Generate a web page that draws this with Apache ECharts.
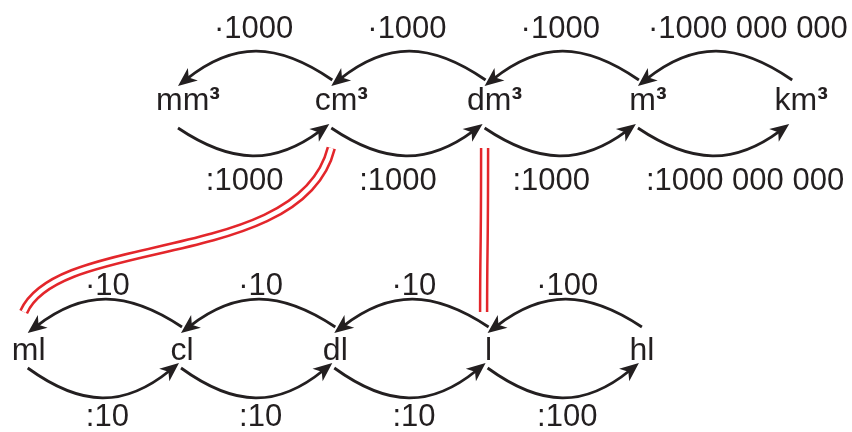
<!DOCTYPE html>
<html>
<head>
<meta charset="utf-8">
<script src="https://cdn.jsdelivr.net/npm/echarts@6/dist/echarts.min.js"></script>
<style>html,body{margin:0;padding:0;background:#fff}#c{width:852px;height:432px}</style>
</head>
<body>
<div id="c"></div>
<script>
// ---- data ----
const volumeUnits = ['mm³', 'cm³', 'dm³', 'm³', 'km³'];
const volumeMultipliers = ['·1000', '·1000', '·1000', '·1000 000 000'];
const volumeDivisors = [':1000', ':1000', ':1000', ':1000 000 000'];
const capacityUnits = ['ml', 'cl', 'dl', 'l', 'hl'];
const capacityMultipliers = ['·10', '·10', '·10', '·100'];
const capacityDivisors = [':10', ':10', ':10', ':100'];
const equivalences = [['cm³', 'ml'], ['dm³', 'l']];

// capacity row is shifted so that 'l' sits right below 'dm³'
const capShift = volumeUnits.indexOf('dm³') - capacityUnits.indexOf('l');

// ---- style ----
const FONT = "'Liberation Sans', Arial, Helvetica, sans-serif";
const INK = '#231f20';
const RED = '#e3262b';
const FS_LABEL = 31;
const FS_UNIT = 32;
const ROW = {
  volume:   { y: 1, dx: 0, unitDx: 10, up: [-22, -16, -50], low: [26, 22, 53], multDy: -72.7, divDy: 79.3, multDx: -1, divDx: -10 },
  capacity: { y: 0, dx: 3, unitDx: 1,  up: [-25, -19, -52], low: [16, 11, 45], multDy: -65.7, divDy: 65.3, multDx: 3,  divDx: 3 }
};

function arcCtrl(A, B, peakY, k) {
  const yc = (peakY - (A[1] + B[1]) / 8) / 0.75;
  return [A, [A[0] + k * (B[0] - A[0]), yc], [B[0] - k * (B[0] - A[0]), yc], B];
}
function arrowArc(A, B, peakY) {
  const [P0, P1, P2, P3] = arcCtrl(A, B, peakY, 0.36);
  const len = 19, half = 8;
  let dx = P3[0] - P2[0], dy = P3[1] - P2[1];
  const d = Math.hypot(dx, dy); dx /= d; dy /= d;
  const nx = -dy, ny = dx;
  const base = [P3[0] - dx * len, P3[1] - dy * len];
  const notch = [P3[0] - dx * len * 0.72, P3[1] - dy * len * 0.72];
  const end = [P3[0] - dx * len * 0.6, P3[1] - dy * len * 0.6];
  return [
    { type: 'bezierCurve', shape: { x1: P0[0], y1: P0[1], cpx1: P1[0], cpy1: P1[1], cpx2: P2[0], cpy2: P2[1], x2: end[0], y2: end[1] },
      style: { stroke: INK, lineWidth: 2.8, fill: 'none' } },
    { type: 'polygon', shape: { points: [P3, [base[0] + nx * half, base[1] + ny * half], notch, [base[0] - nx * half, base[1] - ny * half]] },
      style: { fill: INK } }
  ];
}
function txt(text, x, y, align) {
  return { type: 'text', style: { text, x, y, align, verticalAlign: 'middle', fill: INK, fontSize: FS_LABEL, fontFamily: FONT } };
}

function arcSeries(mult, div, cfg, shift) {
  return {
    type: 'custom', coordinateSystem: 'cartesian2d', silent: true,
    data: mult.map((m, i) => [i + shift, cfg.y]),
    renderItem(params, api) {
      const i = params.dataIndex;
      const L = api.coord([api.value(0), api.value(1)]); L[0] += cfg.dx;
      const R = api.coord([api.value(0) + 1, api.value(1)]); R[0] += cfg.dx;
      const y = L[1];
      const children = [];
      children.push(...arrowArc([R[0] + 1, y + cfg.up[0]], [L[0], y + cfg.up[1]], y + cfg.up[2]));
      children.push(...arrowArc([L[0], y + cfg.low[0]], [R[0] - 2, y + cfg.low[1]], y + cfg.low[2]));
      const mid = (L[0] + R[0]) / 2;
      const longM = mult[i].length > 6, longD = div[i].length > 6;
      children.push(txt(mult[i], longM ? L[0] + 10 : mid + cfg.multDx, y + cfg.multDy, longM ? 'left' : 'center'));
      children.push(txt(div[i], longD ? L[0] + 8 : mid + cfg.divDx, y + cfg.divDy, longD ? 'left' : 'center'));
      return { type: 'group', children };
    }
  };
}
function unitSeries(units, cfg, shift) {
  return {
    type: 'custom', coordinateSystem: 'cartesian2d', silent: true,
    data: units.map((u, i) => [i + shift, cfg.y]),
    renderItem(params, api) {
      const P = api.coord([api.value(0), api.value(1)]);
      const u = units[params.dataIndex];
      return {
        type: 'text',
        style: {
          text: u.replace('³', '{s|³}'), x: P[0] + cfg.dx + cfg.unitDx, y: P[1] - 0.6,
          align: 'center', verticalAlign: 'middle', fill: INK, fontSize: FS_UNIT, fontFamily: FONT,
          rich: { s: { fontSize: FS_UNIT, fontFamily: FONT, fontWeight: 'bold', fill: INK } }
        }
      };
    }
  };
}
const linkSeries = {
  type: 'custom', coordinateSystem: 'cartesian2d', silent: true,
  data: equivalences.map(([v, c]) => [volumeUnits.indexOf(v), capacityUnits.indexOf(c) + capShift]),
  renderItem(params, api) {
    const T = api.coord([api.value(0), ROW.volume.y]);
    const B = api.coord([api.value(1), ROW.capacity.y]); B[0] += ROW.capacity.dx;
    const P0 = [T[0], T[1] + 46], P3 = [B[0] - 4, B[1] - 40];
    const dx = P3[0] - P0[0], dy = P3[1] - P0[1];
    const shape = {
      x1: P0[0], y1: P0[1],
      cpx1: P0[0] + 0.097 * dx, cpy1: P0[1] + 0.73 * dy,
      cpx2: P3[0] - 0.113 * dx, cpy2: P3[1] - 0.48 * dy,
      x2: P3[0], y2: P3[1]
    };
    return { type: 'group', children: [
      { type: 'bezierCurve', shape, style: { stroke: RED, lineWidth: 9.5, fill: 'none' } },
      { type: 'bezierCurve', shape, style: { stroke: '#fff', lineWidth: 4.5, fill: 'none' } }
    ] };
  }
};

const chart = echarts.init(document.getElementById('c'));
chart.setOption({
  animation: false,
  backgroundColor: '#fff',
  grid: { left: 0, right: 0, top: 0, bottom: 0 },
  xAxis: { type: 'value', min: -1.1611, max: 4.3966, show: false },
  yAxis: { type: 'value', min: -0.32, max: 1.408, show: false },
  series: [
    linkSeries,
    arcSeries(volumeMultipliers, volumeDivisors, ROW.volume, 0),
    arcSeries(capacityMultipliers, capacityDivisors, ROW.capacity, capShift),
    unitSeries(volumeUnits, ROW.volume, 0),
    unitSeries(capacityUnits, ROW.capacity, capShift)
  ]
});
</script>
</body>
</html>
